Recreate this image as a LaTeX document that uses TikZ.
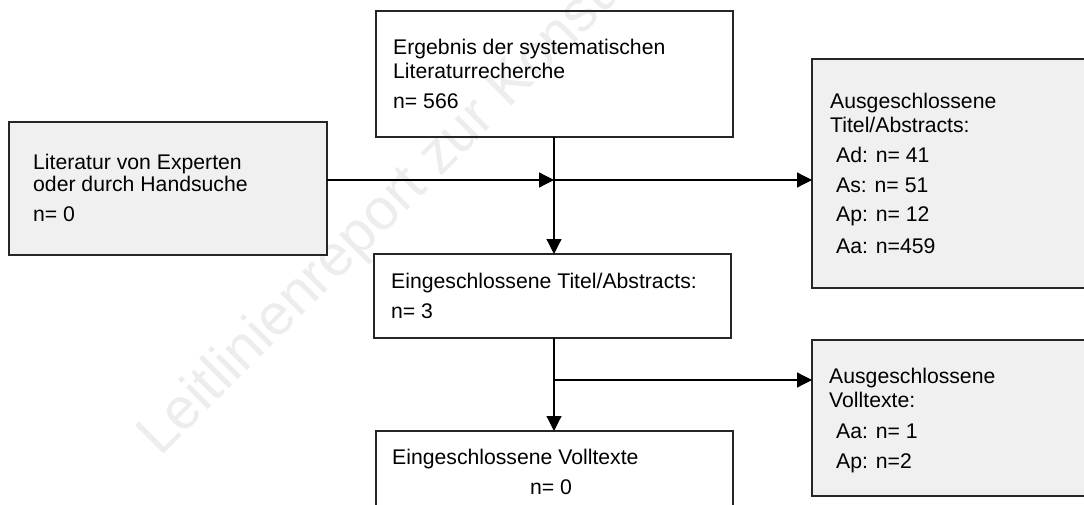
\documentclass[tikz,border=0pt]{standalone}
\usepackage{fontspec}
\setmainfont{Liberation Sans}
\usetikzlibrary{arrows.meta}
\definecolor{boxgrey}{HTML}{F0F0F0}
\begin{document}
\begin{tikzpicture}[x=1pt, y=-1pt,
  font=\fontsize{21.2}{24}\selectfont,
  box/.style={draw=black!85, line width=1.2pt, inner sep=0pt, outer sep=0pt, rectangle},
  greybox/.style={box, fill=boxgrey},
  txt/.style={anchor=base west, inner sep=0pt, text=black},
  arr/.style={draw=black, line width=1.2pt, -{Triangle[length=15pt, width=15pt]}}]

\clip (0,0) rectangle (1084,505);
\fill[white] (0,0) rectangle (1084,505);

% faint diagonal watermark
\node[anchor=base west, inner sep=0pt, rotate=45, text=black!7,
      font=\fontsize{58}{60}\selectfont] (wm) at (160,458) {Leitlinienreport zur Konsultation};

% boxes
\node[greybox, minimum width=318pt, minimum height=133pt] (left) at (168,188.5) {};
\node[box, minimum width=357pt, minimum height=126pt] (top) at (554.5,74) {};
\node[greybox, minimum width=278pt, minimum height=229pt] (rtop) at (951,173.5) {};
\node[box, minimum width=357pt, minimum height=84pt] (mid) at (552.5,296) {};
\node[box, minimum width=357pt, minimum height=84pt] (bot) at (554.5,473) {};
\node[greybox, minimum width=278pt, minimum height=156pt] (rbot) at (951,418) {};

% texts
\node[txt] (l1) at (33,170) {Literatur von Experten};
\node[txt] (l2) at (33,192) {oder durch Handsuche};
\node[txt] (l3) at (33,222) {n= 0};

\node[txt] (t1) at (393,55) {Ergebnis der systematischen};
\node[txt] (t2) at (393,79) {Literaturrecherche};
\node[txt] (t3) at (393,109) {n= 566};

\node[txt] (r1) at (830,109) {Ausgeschlossene};
\node[txt] (r2) at (830,133) {Titel/Abstracts:};
\node[txt] (r3) at (836,163) {Ad: n= 41};
\node[txt] (r4) at (836,193) {As: n= 51};
\node[txt] (r5) at (836,222) {Ap: n= 12};
\node[txt] (r6) at (836,253) {Aa: n=459};

\node[txt] (m1) at (391,288) {Eingeschlossene Titel/Abstracts:};
\node[txt] (m2) at (391,318) {n= 3};

\node[txt] (b1) at (392,464) {Eingeschlossene Volltexte};
\node[txt] (b2) at (530,494) {n= 0};

\node[txt] (s1) at (829,383) {Ausgeschlossene};
\node[txt] (s2) at (829,407) {Volltexte:};
\node[txt] (s3) at (836,438) {Aa: n= 1};
\node[txt] (s4) at (836,468) {Ap: n=2};

% junctions on the main flow line
\coordinate (j1) at (554,180);
\coordinate (j2) at (554,380);

% connectors
\draw[arr] (top.south -| j1) -- (mid.north -| j1);
\draw[arr] (left.east |- j1) -- (j1);
\draw[arr] (j1) -- (rtop.west |- j1);
\draw[arr] (mid.south -| j1) -- (bot.north -| j1);
\draw[arr] (j2) -- (rbot.west |- j2);
\end{tikzpicture}
\end{document}
